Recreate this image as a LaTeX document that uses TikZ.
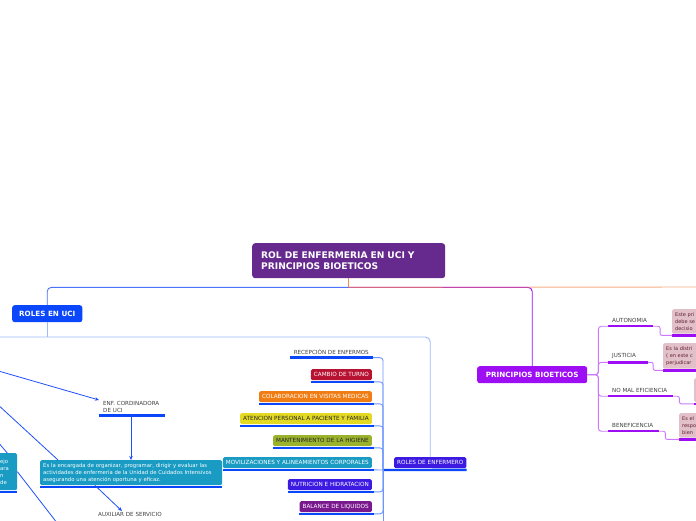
\documentclass[tikz,border=0pt]{standalone}
\usepackage{fontspec}
\setmainfont{DejaVu Sans}
\usetikzlibrary{arrows.meta, positioning}

\definecolor{titlepurple}{RGB}{102,42,142}
\definecolor{rolesblue}{RGB}{10,70,250}
\definecolor{linkblue}{RGB}{30,80,250}
\definecolor{paleblue}{RGB}{160,185,255}
\definecolor{trunkblue}{RGB}{110,150,255}
\definecolor{enfviolet}{RGB}{60,26,226}
\definecolor{turnored}{RGB}{184,18,50}
\definecolor{visitorange}{RGB}{240,125,20}
\definecolor{familyellow}{RGB}{228,218,34}
\definecolor{higieneolive}{RGB}{155,178,45}
\definecolor{movteal}{RGB}{25,155,195}
\definecolor{liqpurple}{RGB}{122,24,142}
\definecolor{bioviolet}{RGB}{158,14,245}
\definecolor{biolight}{RGB}{205,120,255}
\definecolor{pinkfill}{RGB}{226,192,202}
\definecolor{pinktext}{RGB}{95,30,50}
\definecolor{stemorange}{RGB}{240,140,80}

\begin{document}
\begin{tikzpicture}[x=1pt, y=-1pt,
    title/.style={fill=titlepurple, text=white, rounded corners=3pt, font=\fontsize{9.1}{11}\selectfont\bfseries, align=left, text width=175pt, inner xsep=9pt, minimum height=35pt, anchor=north west},
    topic/.style={rounded corners=2.5pt, text=white, font=\fontsize{7.2}{8}\selectfont\bfseries, minimum height=17pt, inner xsep=7pt, anchor=north west},
    tag/.style={rounded corners=1.5pt, font=\fontsize{5.7}{6}\selectfont, minimum height=11pt, inner xsep=3pt, inner ysep=0pt, anchor=north east},
    plain/.style={font=\fontsize{5.6}{7.2}\selectfont, text=black!75, inner xsep=4pt, inner ysep=1pt},
    descbox/.style={fill=movteal, text=white, rounded corners=1.5pt, font=\fontsize{5.3}{7}\selectfont, align=left, inner xsep=3pt, inner ysep=2pt, anchor=north west},
    pinkbox/.style={fill=pinkfill, text=pinktext, rounded corners=1.5pt, font=\fontsize{5}{7}\selectfont, align=left, text width=40pt, minimum height=24pt, inner xsep=3pt, anchor=north west},
    uline/.style={line width=2.4pt, rolesblue},
    vline/.style={line width=2.4pt, bioviolet},
    twig/.style={line width=0.9pt, trunkblue, rounded corners=3pt},
    vtwig/.style={line width=0.9pt, biolight, rounded corners=3pt},
    link/.style={line width=0.8pt, linkblue},
    arrowlink/.style={link, -{Stealth[length=4pt, width=3.5pt]}}
]
    \fill[white] (0,0) rectangle (696,520);
    \useasboundingbox (0,0) rectangle (696,520);
    \clip (0,0) rectangle (696,520);

    % central topic and main branches
    \node[title] (title) at (252,243) {ROL DE ENFERMERIA EN UCI Y\\PRINCIPIOS BIOETICOS};
    \node[topic, fill=rolesblue, minimum width=70pt] (rolesuci) at (12,305) {ROLES EN UCI};
    \node[topic, fill=bioviolet, minimum width=110pt] (principios) at (477,366) {PRINCIPIOS BIOETICOS};
    \coordinate (offright) at (700,287);

    \draw[stemorange, line width=0.9pt] (title.south) -- ++(0,9) coordinate (fork);
    \draw[bioviolet, line width=0.9pt, rounded corners=4pt] (fork) -| (principios.north);
    \draw[stemorange, line width=0.9pt, opacity=0.7] (fork) -- (offright);
    \draw[linkblue!80, line width=0.9pt, rounded corners=4pt] (fork) -| (rolesuci.north);

    % roles de enfermero
    \node[tag, fill=enfviolet, text=white, anchor=north west, minimum width=71pt] (enfermero) at (394,457) {ROLES DE ENFERMERO};
    \coordinate (band) at (0,337);
    \coordinate (offleft) at (-5,337);
    \coordinate (trunk) at (383,470);
    \draw[paleblue, line width=0.9pt] (rolesuci.south) -- (rolesuci.south |- band);
    \draw[paleblue, line width=0.9pt, rounded corners=5pt] (offleft) -| (enfermero.north);
    \draw[uline] ([yshift=-1.5pt]enfermero.south east) -- (trunk);

    \node[plain, anchor=north east] (recepcion) at (373,348) {RECEPCIÓN DE ENFERMOS};
    \node[tag, fill=turnored, text=white] (turno) at (372,369) {CAMBIO DE TURNO};
    \node[tag, fill=visitorange, text=white] (visitas) at (372,391) {COLABORACION EN VISITAS MEDICAS};
    \node[tag, fill=familyellow, text=black!85] (familia) at (372,413) {ATENCION PERSONAL A PACIENTE Y FAMILIA};
    \node[tag, fill=higieneolive, text=black!85] (higiene) at (372,435) {MANTENIMIENTO DE LA HIGIENE};
    \node[tag, fill=movteal, text=white] (movil) at (372,457) {MOVILIZACIONES Y ALINEAMIENTOS CORPORALES};
    \node[tag, fill=enfviolet, text=white] (nutricion) at (372,479) {NUTRICION E HIDRATACION};
    \node[tag, fill=liqpurple, text=white] (liquidos) at (372,501) {BALANCE DE LIQUIDOS};

    \draw[uline] ([yshift=-2pt]recepcion.south west) -- ([yshift=-2pt]recepcion.south east) coordinate (recepcion-e);
    \draw[uline] ([yshift=-1.5pt]turno.south west) -- ([yshift=-1.5pt, xshift=2pt]turno.south east) coordinate (turno-e);
    \draw[uline] ([yshift=-1.5pt]visitas.south west) -- ([yshift=-1.5pt, xshift=2pt]visitas.south east) coordinate (visitas-e);
    \draw[uline] ([yshift=-1.5pt]familia.south west) -- ([yshift=-1.5pt, xshift=2pt]familia.south east) coordinate (familia-e);
    \draw[uline] ([yshift=-1.5pt]higiene.south west) -- ([yshift=-1.5pt, xshift=2pt]higiene.south east) coordinate (higiene-e);
    \draw[uline] ([yshift=-1.5pt]movil.south west) -- ([yshift=-1.5pt, xshift=2pt]movil.south east) coordinate (movil-e);
    \draw[uline] ([yshift=-1.5pt]nutricion.south west) -- ([yshift=-1.5pt, xshift=2pt]nutricion.south east) coordinate (nutricion-e);
    \draw[uline] ([yshift=-1.5pt]liquidos.south west) -- ([yshift=-1.5pt, xshift=2pt]liquidos.south east) coordinate (liquidos-e);

    \draw[twig] (trunk) |- (recepcion-e);
    \draw[twig] (trunk) |- (turno-e);
    \draw[twig] (trunk) |- (visitas-e);
    \draw[twig] (trunk) |- (familia-e);
    \draw[twig] (trunk) |- (higiene-e);
    \draw[twig] (trunk) -- (movil-e);
    \draw[twig] (trunk) |- (nutricion-e);
    \draw[twig] (trunk) |- (liquidos-e);
    \draw[twig] (trunk) -- (383,525);

    % coordinadora and the left side
    \node[plain, anchor=north west, align=left, text width=58pt] (coordinadora) at (99,400) {ENF. CORDINADORA\\DE UCI};
    \node[descbox, text width=176pt, minimum height=25pt] (funcion) at (40,460) {Es la encargada de organizar, programar, dirigir y evaluar las\\actividades de enfermería de la Unidad de Cuidados Intensivos\\asegurando una atención oportuna y eficaz.};
    \node[plain, anchor=north west] (auxiliar) at (94,511) {AUXILIAR DE SERVICIO};
    \node[descbox, text width=14pt, minimum height=37pt] (consejo) at (-3,453) {ejo\\ara\\n\\de};

    \draw[uline] ([yshift=-1.5pt]coordinadora.south west) -- ([yshift=-1.5pt]coordinadora.south east);
    \draw[uline] ([yshift=-1.5pt]funcion.south west) -- ([yshift=-1.5pt]funcion.south east);
    \draw[uline] ([yshift=-1.5pt]consejo.south west) -- ([yshift=-1.5pt]consejo.south east);

    \coordinate (offcoord) at (-5,370);
    \coordinate (offdesc) at (-5,402);
    \coordinate (offconsejo) at (-7,436);
    \coordinate (offdown) at (61,528);
    \draw[arrowlink] (offcoord) -- (coordinadora.north west);
    \draw[arrowlink] (coordinadora.south -| 131,0) -- (funcion.north -| 131,0);
    \draw[arrowlink] ([xshift=55pt]funcion.south west) -- ([xshift=-8pt]auxiliar.north);
    \draw[link] (offdesc) -- ([xshift=18pt]funcion.north west);
    \draw[link] (offconsejo) -- (consejo.north);
    \draw[link] (consejo.east) -- (offdown);

    % principios bioeticos
    \node[plain, anchor=base west] (autonomia) at (608,322) {AUTONOMIA};
    \node[plain, anchor=base west] (justicia) at (608,357) {JUSTICIA};
    \node[plain, anchor=base west] (nomal) at (608,392) {NO MAL EFICIENCIA};
    \node[plain, anchor=base west] (beneficencia) at (608,427) {BENEFICENCIA};

    \draw[vline] ([yshift=-3pt]autonomia.south west) coordinate (autonomia-w) -- ([yshift=-3pt, xshift=2pt]autonomia.south east) coordinate (autonomia-e);
    \draw[vline] ([yshift=-3pt]justicia.south west) coordinate (justicia-w) -- ([yshift=-3pt, xshift=8pt]justicia.south east) coordinate (justicia-e);
    \draw[vline] ([yshift=-3pt]nomal.south west) coordinate (nomal-w) -- ([yshift=-3pt, xshift=2pt]nomal.south east) coordinate (nomal-e);
    \draw[vline] ([yshift=-3pt]beneficencia.south west) coordinate (beneficencia-w) -- ([yshift=-3pt, xshift=2pt]beneficencia.south east) coordinate (beneficencia-e);

    \draw[vtwig] (principios.east) -- ++(11,0) |- (autonomia-w);
    \draw[vtwig] (principios.east) -- ++(11,0) |- (justicia-w);
    \draw[vtwig] (principios.east) -- ++(11,0) |- (nomal-w);
    \draw[vtwig] (principios.east) -- ++(11,0) |- (beneficencia-w);

    \node[pinkbox] (autonomia-d) at (672,309) {Este pri\\debe se\\decisio};
    \node[pinkbox] (justicia-d) at (663,343) {Es la distri\\( en este c\\perjudicar};
    \node[pinkbox] (nomal-d) at (694,378) {};
    \node[pinkbox] (beneficencia-d) at (679,413) {Es el\\respo\\bien};

    \draw[vline] ([yshift=-1.5pt]autonomia-d.south west) coordinate (autonomia-dw) -- ([yshift=-1.5pt]autonomia-d.south east);
    \draw[vline] ([yshift=-1.5pt]justicia-d.south west) coordinate (justicia-dw) -- ([yshift=-1.5pt]justicia-d.south east);
    \draw[vline] ([yshift=-1.5pt]nomal-d.south west) coordinate (nomal-dw) -- ([yshift=-1.5pt]nomal-d.south east);
    \draw[vline] ([yshift=-1.5pt]beneficencia-d.south west) coordinate (beneficencia-dw) -- ([yshift=-1.5pt]beneficencia-d.south east);

    \draw[vtwig, rounded corners=2pt] (autonomia-e) -- ++(7,0) |- (autonomia-dw);
    \draw[vtwig, rounded corners=2pt] (justicia-e) -- ++(5,0) |- (justicia-dw);
    \draw[vtwig, rounded corners=2pt] (nomal-e) -- ++(6,0) |- (nomal-dw);
    \draw[vtwig, rounded corners=2pt] (beneficencia-e) -- ++(6,0) |- (beneficencia-dw);
\end{tikzpicture}
\end{document}
